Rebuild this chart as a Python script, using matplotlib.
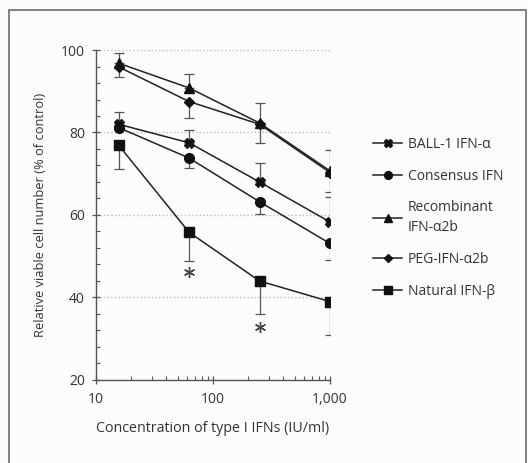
import numpy as np
import matplotlib.pyplot as plt
from matplotlib.patches import Rectangle
from matplotlib.lines import Line2D
from matplotlib.ticker import MultipleLocator, NullFormatter

plt.rcParams['font.family'] = ['Open Sans', 'DejaVu Sans']

# concentrations (IU/ml)
conc = [15.625, 62.5, 250, 1000]

# viable cell number, % of control
ball1 = [82.0, 77.5, 68.0, 58.3]
consensus = [81.2, 73.8, 63.2, 53.1]
recomb = [96.8, 90.8, 82.3, 70.7]
peg = [95.9, 87.5, 82.0, 70.3]
natural = [76.9, 55.8, 44.0, 39.0]

# error bars (lower, upper)
ball1_err = [[0, 0, 0, 0], [3.0, 3.0, 4.6, 6.0]]
consensus_err = [[0, 2.5, 3.0, 4.0], [0, 0, 0, 0]]
recomb_err = [[0, 0, 0, 0], [2.4, 3.3, 4.8, 5.0]]
peg_err = [[2.5, 4.0, 4.5, 4.8], [0, 0, 0, 0]]
natural_err = [[5.8, 7.0, 8.0, 8.2], [0, 0, 0, 0]]

# significance marks
star_x = [62.5, 250]
star_y = [46.1, 32.8]

fig = plt.figure(figsize=(5.28, 4.63), dpi=100)
fig.patch.set_facecolor('#fbfcfd')
ax = fig.add_axes([0.1818, 0.1793, 0.4432, 0.7127])
ax.set_facecolor('none')

series = [
    (ball1, ball1_err, 'X', 7, 'BALL-1 IFN-\u03b1'),
    (consensus, consensus_err, 'o', 7, 'Consensus IFN'),
    (recomb, recomb_err, '^', 7, 'Recombinant\nIFN-\u03b12b'),
    (peg, peg_err, 'D', 5, 'PEG-IFN-\u03b12b'),
    (natural, natural_err, 's', 7, 'Natural IFN-\u03b2'),
]
handles = []
for vals, err, mk, ms, lab in series:
    ax.errorbar(conc, vals, yerr=err, color='#222222', ecolor='#555555',
                elinewidth=0.9, capsize=3.5, capthick=0.9, lw=1.1,
                marker=mk, ms=ms, mfc='#111111', mec='#111111')
    handles.append(Line2D([], [], color='#222222', lw=1.1, marker=mk, ms=ms * 0.8,
                          mfc='#111111', mec='#111111', label=lab))

# asterisks for significance
ax.plot(star_x, star_y, ls='none', marker=(6, 2, 0), ms=8, mew=1.0, color='#444444')

ax.set_xscale('log')
ax.set_xlim(10, 1000)
ax.set_ylim(20, 100)
ax.set_xticks([10, 100, 1000])
ax.set_xticklabels(['10', '100', '1,000'])
ax.xaxis.set_minor_formatter(NullFormatter())
ax.set_yticks([20, 40, 60, 80, 100])
ax.yaxis.set_minor_locator(MultipleLocator(4))

for y in [40, 60, 80, 100]:
    ax.axhline(y, color='#bbbbbb', lw=1.0, ls=':', zorder=0)

for s in ['top', 'right']:
    ax.spines[s].set_visible(False)
for s in ['left', 'bottom']:
    ax.spines[s].set_color('#555555')
    ax.spines[s].set_linewidth(1.0)

ax.tick_params(which='major', direction='inout', length=6, width=0.9,
               color='#555555', labelsize=10, labelcolor='#333333')
ax.tick_params(axis='x', which='major', pad=6)
ax.tick_params(axis='y', which='major', pad=5)
ax.tick_params(which='minor', direction='in', length=3, width=0.8, color='#555555')

ax.set_xlabel('Concentration of type I IFNs (IU/ml)', fontsize=10.3, color='#333333', labelpad=10)
ax.set_ylabel('Relative viable cell number (% of control)', fontsize=9.3, color='#333333', labelpad=10)

leg = ax.legend(handles=handles, loc='upper left', bbox_to_anchor=(0.7064, 0.7040),
                bbox_transform=fig.transFigure, frameon=False, fontsize=10,
                borderpad=0, borderaxespad=0, handlelength=2.1, handletextpad=0.4,
                labelspacing=1.2)
for t in leg.get_texts():
    t.set_color('#333333')
    t.set_linespacing(1.45)

fig.add_artist(Rectangle((0.017, -0.02), 0.979, 0.998, transform=fig.transFigure,
                         fill=False, ec='#777777', lw=1.3))

fig.savefig('out.png', dpi=100, facecolor=fig.get_facecolor())
